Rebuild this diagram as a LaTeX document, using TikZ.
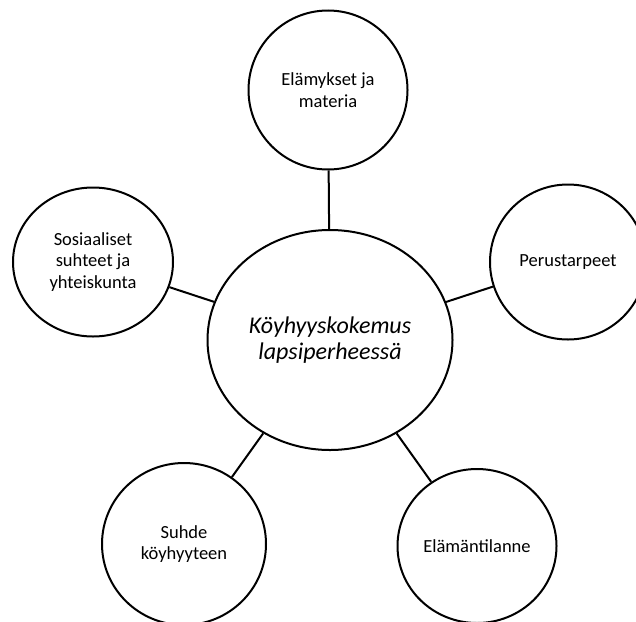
\documentclass[tikz,border=0pt]{standalone}
\usepackage{fontspec}
\setmainfont{Carlito}
\usetikzlibrary{shapes.geometric}

\begin{document}
\begin{tikzpicture}[x=1pt, y=-1pt, line width=2pt,
  teema/.style={ellipse, draw, inner sep=0pt, align=center,
    font=\fontsize{18.5}{21.5}\selectfont},
  ydin/.style={ellipse, draw, inner sep=0pt, align=center,
    minimum width=245, minimum height=220,
    font=\fontsize{24}{26}\selectfont\itshape}]
\useasboundingbox (0,0) rectangle (636,621);
\node[ydin] (kokemus) at (330,340) {Köyhyyskokemus\\lapsiperheessä};
\node[teema, minimum width=159, minimum height=159] (elamykset) at (328,90) {Elämykset ja\\materia};
\node[teema, minimum width=156, minimum height=155] (perus) at (568,262) {Perustarpeet};
\node[teema, minimum width=160, minimum height=149] (sosiaaliset) at (93,262) {Sosiaaliset\\suhteet ja\\yhteiskunta};
\node[teema, minimum width=164, minimum height=162] (suhde) at (184,544) {Suhde\\köyhyyteen};
\node[teema, minimum width=159, minimum height=154] (tilanne) at (477,546) {Elämäntilanne};
% yhdysviivat
\draw (kokemus) -- (elamykset);
\draw (kokemus) -- (perus);
\draw (kokemus) -- (sosiaaliset);
\draw (kokemus) -- (suhde);
\draw (kokemus) -- (tilanne);
\end{tikzpicture}
\end{document}
